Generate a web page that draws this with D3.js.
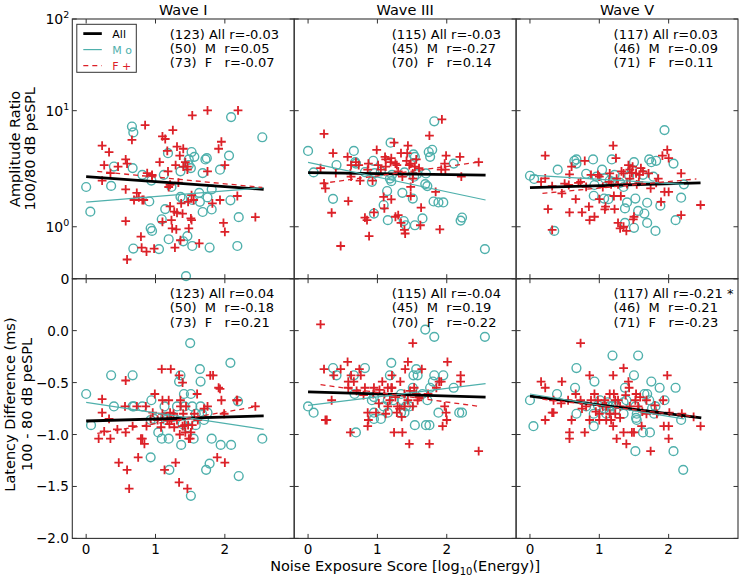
<!DOCTYPE html>
<html>
<head>
<meta charset="utf-8">
<script src="https://cdn.jsdelivr.net/npm/d3@7/dist/d3.min.js"></script>
<style>
body { margin: 0; background: #fff; }
text { font-family: "DejaVu Sans", sans-serif; }
</style>
</head>
<body>
<svg id="chart" width="740" height="575"></svg>
<script>
// ---- data: [noise exposure, value] ----
const waves = ["Wave I", "Wave III", "Wave V"]

// amplitude ratio, males (circles)
const ampM_I = [[0.00,2.2],[0.06,1.35],[0.36,2.25],[0.40,3.3],[0.66,7.3],[0.68,6.5],[0.67,3.2],[0.68,0.58],[0.81,2.8],[0.91,1.65],[0.93,0.97],[0.95,0.92],[0.94,2.5],[1.05,0.57],[1.09,1.16],[1.12,2.8],[1.14,1.42],[1.18,4.3],[1.19,0.76],[1.23,2.2],[1.36,1.81],[1.36,3.0],[1.40,0.72],[1.46,0.82],[1.44,0.05],[1.48,3.4],[1.52,4.4],[1.53,0.63],[1.56,4.0],[1.63,1.96],[1.64,1.64],[1.68,2.9],[1.68,1.34],[1.72,3.8],[1.74,3.9],[1.75,1.79],[1.78,0.60],[1.81,2.1],[1.81,1.41],[1.93,3.1],[2.06,4.1],[2.08,1.69],[2.09,8.8],[2.18,0.63],[2.20,1.21],[2.54,5.9],[1.48,3.8],[1.53,1.70],[1.51,3.2],[1.39,1.75]]
const ampM_III = [[0.00,4.5],[0.08,2.94],[0.36,1.74],[0.41,3.4],[0.66,4.5],[0.68,3.6],[0.69,3.5],[0.82,2.96],[0.92,2.44],[0.94,3.7],[0.95,1.30],[1.05,3.0],[1.09,1.54],[1.14,2.03],[1.15,1.14],[1.19,5.3],[1.20,2.47],[1.21,2.8],[1.36,1.96],[1.38,1.12],[1.41,1.03],[1.39,2.94],[1.51,1.75],[1.52,4.2],[1.54,4.0],[1.54,1.03],[1.57,2.84],[1.65,1.18],[1.69,2.33],[1.70,2.88],[1.72,2.24],[1.74,4.4],[1.76,4.0],[1.79,4.6],[1.82,8.1],[1.81,1.65],[1.88,1.62],[1.95,1.62],[2.10,3.5],[2.20,1.13],[2.22,1.20],[2.55,0.57],[1.53,2.70],[1.18,2.6],[0.96,2.9]]
const ampM_V = [[0.00,2.75],[0.06,2.58],[0.35,0.92],[0.40,3.1],[0.64,3.7],[0.67,3.8],[0.81,2.86],[0.91,3.8],[0.92,1.85],[0.93,2.29],[1.04,3.1],[1.08,2.61],[1.13,1.73],[1.18,3.8],[1.20,2.44],[1.22,2.8],[1.30,2.39],[1.37,1.44],[1.37,1.08],[1.40,1.62],[1.43,2.75],[1.50,3.6],[1.52,1.75],[1.50,0.98],[1.56,1.37],[1.63,2.8],[1.65,1.30],[1.69,1.61],[1.69,1.08],[1.72,3.8],[1.75,3.6],[1.78,2.70],[1.82,3.7],[1.81,0.92],[1.88,1.52],[1.94,6.8],[2.07,3.5],[2.10,1.14],[2.18,1.78],[2.22,2.32],[1.07,1.75],[1.47,3.1],[0.67,3.5],[1.15,2.5],[0.96,2.7],[1.35,2.2]]

// amplitude ratio, females (crosses)
const ampF_I = [[0.23,5.0],[0.26,3.4],[0.33,4.4],[0.23,2.5],[0.35,2.9],[0.46,3.3],[0.57,3.8],[0.59,3.5],[0.57,2.1],[0.57,1.12],[0.59,0.37],[0.66,5.6],[0.85,7.5],[0.73,1.96],[0.76,1.79],[0.81,1.70],[0.83,1.70],[0.79,0.81],[0.80,0.60],[0.87,0.52],[0.95,2.8],[0.98,0.58],[1.06,3.6],[1.10,6.0],[1.14,5.7],[1.17,4.5],[1.18,3.0],[1.19,2.2],[1.21,2.3],[1.23,1.14],[1.24,0.97],[1.25,6.8],[1.27,1.35],[1.28,0.60],[1.31,4.9],[1.33,2.4],[1.35,4.1],[1.36,0.74],[1.37,1.59],[1.39,1.30],[1.40,4.7],[1.40,3.3],[1.43,3.6],[1.46,3.1],[1.47,1.64],[1.48,0.97],[1.51,1.18],[1.52,1.14],[1.53,9.1],[1.52,1.87],[1.63,0.68],[1.75,10.1],[1.82,1.59],[1.91,4.7],[1.93,1.70],[1.95,5.4],[1.98,1.08],[2.00,0.90],[2.00,3.4],[2.18,1.84],[2.19,10.1],[2.44,1.21],[1.30,0.95],[1.31,1.32],[1.29,3.4],[1.46,3.3],[0.69,1.70],[0.88,2.9],[1.21,1.50],[1.55,1.70],[1.75,3.0],[1.10,1.10],[0.95,2.75]]
const ampF_III = [[0.18,3.2],[0.23,6.3],[0.23,2.36],[0.25,2.14],[0.34,1.32],[0.36,4.3],[0.47,0.63],[0.57,4.0],[0.58,1.66],[0.61,2.88],[0.62,3.4],[0.73,3.4],[0.75,2.5],[0.82,1.20],[0.85,1.14],[0.87,3.5],[0.88,0.82],[0.95,1.33],[0.99,4.6],[1.01,3.4],[1.09,1.81],[1.11,4.0],[1.12,3.3],[1.10,1.44],[1.19,3.6],[1.20,1.72],[1.24,5.3],[1.26,3.5],[1.28,3.4],[1.26,1.22],[1.30,1.26],[1.34,4.3],[1.34,1.08],[1.36,2.70],[1.39,0.94],[1.40,0.87],[1.44,5.0],[1.43,4.3],[1.46,3.4],[1.48,3.5],[1.48,2.21],[1.51,2.88],[1.54,3.3],[1.56,3.8],[1.48,1.84],[1.63,1.46],[1.62,1.03],[1.75,6.1],[1.84,2.0],[1.90,0.95],[1.93,8.4],[1.97,3.5],[1.99,4.1],[1.98,3.1],[2.19,4.0],[2.21,2.7],[2.46,3.6],[0.69,3.6],[0.62,2.7],[1.05,3.1],[1.92,3.1],[1.12,3.8],[1.51,2.6],[1.20,3.9],[0.86,3.1],[0.40,2.9],[1.60,3.2],[1.30,3.0],[1.42,3.7],[0.93,2.5]]
const ampF_V = [[0.16,2.44],[0.22,4.1],[0.22,2.61],[0.26,1.42],[0.32,2.24],[0.32,0.94],[0.46,1.94],[0.56,2.29],[0.57,2.83],[0.57,1.33],[0.60,3.3],[0.66,1.73],[0.73,2.44],[0.75,1.33],[0.79,3.7],[0.85,1.49],[0.86,1.14],[0.93,1.22],[0.98,2.8],[1.00,1.73],[1.08,1.41],[1.09,1.49],[1.15,2.88],[1.17,2.32],[1.20,5.0],[1.21,1.84],[1.22,1.42],[1.24,3.9],[1.27,2.32],[1.27,1.08],[1.30,0.97],[1.31,1.84],[1.32,3.0],[1.35,1.00],[1.39,0.92],[1.40,2.33],[1.42,3.4],[1.44,3.1],[1.47,2.92],[1.48,3.3],[1.50,1.22],[1.49,1.16],[1.53,2.88],[1.58,2.8],[1.54,2.32],[1.60,3.2],[1.63,3.0],[1.74,2.14],[1.82,2.39],[1.89,1.64],[1.91,4.1],[1.94,2.0],[1.98,4.6],[2.00,3.9],[2.00,2.0],[2.18,2.88],[2.18,1.26],[2.46,1.54],[1.00,2.7],[0.88,2.8],[0.70,2.39],[1.35,2.88],[1.44,2.6],[1.71,2.88],[1.14,2.44],[0.81,2.21],[1.57,2.44],[1.05,2.2],[0.50,2.35],[1.25,2.6],[1.85,2.6]]

// latency difference (ms), males
const latM_I = [[0.00,-0.61],[0.07,-0.91],[0.36,-0.43],[0.40,-0.73],[0.67,-0.43],[0.67,-0.73],[0.69,-0.73],[0.81,-0.73],[0.93,-1.22],[0.94,-0.67],[0.93,-0.86],[1.04,-0.98],[1.09,-1.04],[1.13,-0.73],[1.14,-0.83],[1.15,-0.86],[1.20,-1.34],[1.34,-0.49],[1.36,-0.43],[1.37,-1.10],[1.41,-0.61],[1.42,-0.73],[1.50,-0.12],[1.51,-0.61],[1.51,-1.59],[1.53,-0.73],[1.55,-1.04],[1.58,-0.91],[1.64,-0.37],[1.65,-0.49],[1.67,-0.80],[1.70,-0.86],[1.73,-1.34],[1.75,-0.79],[1.78,-1.28],[1.81,-1.04],[1.94,-1.10],[2.08,-0.31],[2.09,-1.10],[2.19,-0.68],[2.20,-1.40],[2.54,-1.04],[1.19,-1.04],[1.39,-0.90],[1.46,-0.93],[1.31,-0.73],[1.26,-0.83],[1.65,-0.73],[1.58,-0.80],[0.98,-0.85]]
const latM_III = [[0.00,-0.73],[0.08,-0.79],[0.36,-0.36],[0.41,-0.43],[0.66,-0.43],[0.67,-0.61],[0.69,-0.98],[0.82,-0.36],[0.92,-0.67],[0.95,-0.79],[0.95,-0.85],[1.05,-0.85],[1.09,-0.73],[1.15,-0.79],[1.18,-0.43],[1.20,-0.31],[1.23,-0.67],[1.36,-0.67],[1.39,-0.79],[1.41,-0.73],[1.51,-0.55],[1.52,-0.43],[1.54,-0.91],[1.56,-0.37],[1.58,-0.43],[1.65,-0.61],[1.69,0.01],[1.72,-0.67],[1.70,-0.91],[1.75,-0.91],[1.76,-0.55],[1.80,-0.49],[1.82,-0.06],[1.82,-0.43],[1.88,-0.79],[1.95,-0.43],[2.10,-0.55],[2.18,-0.79],[2.22,-0.79],[2.55,-0.06],[1.34,-0.79],[1.15,-0.67],[1.46,-0.73],[0.95,-0.64],[1.34,-0.61]]
const latM_V = [[0.00,-0.67],[0.05,-0.92],[0.39,-0.61],[0.67,-0.36],[0.65,-0.55],[0.67,-0.80],[0.92,-0.92],[0.93,-0.49],[0.92,-0.80],[0.98,-0.72],[1.07,-0.75],[1.10,-0.80],[1.14,-0.73],[1.18,-0.73],[1.19,-0.24],[1.35,-0.80],[1.37,-0.55],[1.39,-0.67],[1.50,-0.43],[1.52,-1.16],[1.52,-0.73],[1.54,-0.86],[1.56,-0.24],[1.63,-0.98],[1.65,-0.61],[1.69,-0.61],[1.72,-0.67],[1.73,-0.98],[1.75,-0.49],[1.79,-0.80],[1.81,-0.73],[1.87,-0.55],[1.94,-0.67],[2.07,-1.16],[2.10,-0.55],[2.18,-0.86],[2.21,-1.34],[1.01,-0.67],[1.20,-0.72],[0.81,-0.73],[1.35,-0.69],[1.54,-0.80],[1.15,-0.77],[1.53,-0.84],[1.76,-0.75],[1.12,-0.69]]

// latency difference (ms), females
const latF_I = [[0.23,-0.66],[0.23,-0.79],[0.18,-1.04],[0.26,-0.97],[0.33,-0.85],[0.35,-1.04],[0.47,-1.27],[0.57,-0.48],[0.56,-0.73],[0.57,-0.98],[0.59,-1.34],[0.62,-1.52],[0.67,-0.92],[0.73,-0.73],[0.75,-1.22],[0.79,-1.04],[0.81,-1.04],[0.84,-1.09],[0.86,-0.73],[0.87,-0.92],[0.96,-0.79],[0.99,-0.61],[1.09,-0.37],[1.10,-0.67],[1.10,-0.80],[1.13,-1.34],[1.19,-0.67],[1.22,-0.37],[1.21,-0.79],[1.23,-0.86],[1.26,-0.80],[1.29,-1.27],[1.31,-0.86],[1.34,-0.43],[1.34,-1.46],[1.36,-0.67],[1.36,-0.73],[1.39,-0.92],[1.40,-0.80],[1.42,-0.91],[1.43,-0.98],[1.46,-1.52],[1.47,-0.91],[1.48,-1.04],[1.51,-0.98],[1.53,-0.91],[1.60,-0.61],[1.61,-0.86],[1.75,-0.73],[1.79,-0.43],[1.83,-0.43],[1.89,-1.22],[1.91,-0.55],[1.93,-0.56],[1.95,-0.67],[2.00,-1.27],[1.99,-0.80],[2.17,-0.67],[2.18,-0.67],[2.44,-0.73],[1.39,-0.50],[1.17,-0.86],[1.03,-0.86],[1.27,-0.93],[1.08,-0.93],[1.44,-0.73],[0.93,-0.85],[1.56,-0.80],[1.20,-0.90],[1.50,-1.04],[0.45,-0.95],[1.70,-0.75],[1.35,-1.00]]
const latF_III = [[0.18,0.06],[0.23,-0.37],[0.25,-0.86],[0.27,-0.86],[0.34,-0.67],[0.37,-0.43],[0.47,-0.37],[0.57,-0.30],[0.58,-0.55],[0.61,-0.98],[0.62,-0.43],[0.66,-0.49],[0.74,-0.37],[0.76,-0.43],[0.82,-0.55],[0.86,-0.79],[0.87,-0.86],[0.86,-0.92],[0.95,-0.55],[0.98,-0.79],[1.07,-0.49],[1.10,-0.61],[1.15,-0.73],[1.18,-0.67],[1.21,-0.43],[1.21,-0.55],[1.24,-0.98],[1.28,-0.79],[1.29,-0.73],[1.33,-0.49],[1.36,-0.98],[1.39,-0.61],[1.40,-0.37],[1.44,-0.30],[1.44,-0.67],[1.46,-1.09],[1.51,-0.12],[1.53,-0.55],[1.56,-0.61],[1.58,-0.67],[1.64,-0.37],[1.73,-0.61],[1.75,-1.09],[1.85,-0.55],[1.89,-0.49],[1.94,-0.92],[1.97,-0.73],[1.99,-0.79],[2.00,-0.86],[2.01,-0.30],[2.20,-0.43],[2.20,-0.49],[2.46,-1.16],[1.20,-0.55],[1.32,-0.75],[1.39,-0.73],[1.03,-0.57],[0.94,-0.61],[0.58,-0.49],[1.92,-0.49],[1.15,-0.55],[1.51,-0.73],[1.26,-0.64],[1.47,-0.58],[1.02,-0.70],[0.80,-0.62],[1.60,-0.64],[1.35,-0.83],[1.12,-0.80],[0.70,-0.58]]
const latF_V = [[0.16,-0.49],[0.22,-0.55],[0.22,-0.86],[0.32,-0.79],[0.34,-0.79],[0.34,-0.67],[0.46,-0.49],[0.55,-0.67],[0.57,-0.98],[0.57,-1.04],[0.60,-0.86],[0.66,-0.61],[0.73,-0.12],[0.73,-0.67],[0.79,-0.98],[0.81,-0.73],[0.86,-0.43],[0.86,-0.86],[0.93,-0.61],[0.98,-0.67],[1.00,-0.80],[1.00,-0.86],[1.08,-0.67],[1.15,-0.61],[1.17,-0.86],[1.20,-0.43],[1.20,-0.92],[1.21,-0.61],[1.23,-0.80],[1.25,-1.04],[1.30,-0.73],[1.35,-0.36],[1.35,-0.98],[1.39,-1.09],[1.42,-0.49],[1.43,-0.55],[1.47,-0.98],[1.50,-0.98],[1.52,-0.67],[1.53,-0.61],[1.56,-0.73],[1.61,-0.92],[1.68,-0.67],[1.74,-1.16],[1.83,-0.80],[1.92,-0.67],[1.93,-0.92],[1.98,-0.43],[2.00,-0.92],[2.00,-1.04],[2.01,-0.79],[2.19,-0.80],[2.46,-0.92],[2.36,-0.83],[1.23,-0.67],[1.10,-0.73],[1.44,-0.73],[1.59,-0.64],[1.27,-0.67],[1.68,-0.80],[0.88,-0.67],[1.15,-0.80],[1.05,-0.73],[0.45,-0.70],[1.30,-0.84],[0.75,-0.75],[1.62,-0.78],[1.38,-0.62],[0.95,-0.78],[1.80,-0.72],[1.10,-0.86]]

// regression line end points [[x0,y0],[x1,y1]] for All / M / F
const ampFitAll = [[[0,2.70],[2.56,2.10]], [[0,2.93],[2.56,2.79]], [[0,2.17],[2.46,2.39]]]
const ampFitM   = [[[0,1.63],[2.56,2.17]], [[0,3.59],[2.56,1.70]], [[0,2.79],[2.22,2.32]]]
const ampFitF   = [[[0.16,3.0],[2.54,2.18]], [[0.19,2.36],[2.50,3.63]], [[0.18,1.94],[2.40,2.58]]]
const latFitAll = [[[0,-0.87],[2.56,-0.82]], [[0,-0.59],[2.56,-0.64]], [[0,-0.63],[2.47,-0.84]]]
const latFitM   = [[[0,-0.69],[2.56,-0.95]], [[0,-0.72],[2.56,-0.51]], [[0,-0.61],[2.22,-0.85]]]
const latFitF   = [[[0.16,-0.99],[2.47,-0.73]], [[0.18,-0.52],[2.47,-0.73]], [[0.18,-0.66],[2.39,-0.83]]]

// correlation annotations
const ampStats = [
  ["(123) All r=-0.03", "(50)  M  r=0.05", "(73)  F   r=-0.07"],
  ["(115) All r=-0.03", "(45)  M  r=-0.27", "(70)  F   r=0.14"],
  ["(117) All r=0.03", "(46)  M  r=-0.09", "(71)  F   r=0.11"]
]
const latStats = [
  ["(123) All r=0.04", "(50)  M  r=-0.18", "(73)  F   r=0.21"],
  ["(115) All r=-0.04", "(45)  M  r=0.19", "(70)  F   r=-0.22"],
  ["(117) All r=-0.21 *", "(46)  M  r=-0.21", "(71)  F   r=-0.23"]
]

const xTicks = [0, 1, 2]
const ampTicks = [0, 1, 10, 100]
const latTicks = [0.5, 0, -0.5, -1, -1.5, -2]
const latTickLabels = [0, -0.5, -1, -1.5, -2]

// ---- layout ----
const svg = d3.select("#chart")
const marginLeft = 72.3, marginTop = 19, pw = 221.9, ph = 259.7
const teal = "#4fb0ac", red = "#dc2128"

const x = d3.scaleLinear().domain([-0.2, 3.0]).range([0, pw])
// amplitude axis: linear from 0 to 1, log above (the top decade is squeezed in the original)
const ampPiece = d3.scaleLinear().domain([0, 1, 2, 3]).range([ph, ph * 0.8, ph * 0.353, 0])
const yAmp = v => ampPiece(v <= 1 ? v : 1 + Math.log10(v))
const yLat = d3.scaleLinear().domain([-2.0, 0.5]).range([ph, 0])

const rows = [
  { y: yAmp, ticks: ampTicks, M: [ampM_I, ampM_III, ampM_V], F: [ampF_I, ampF_III, ampF_V],
    fitAll: ampFitAll, fitM: ampFitM, fitF: ampFitF, stats: ampStats },
  { y: yLat, ticks: latTicks, M: [latM_I, latM_III, latM_V], F: [latF_I, latF_III, latF_V],
    fitAll: latFitAll, fitM: latFitM, fitF: latFitF, stats: latStats }
]

const tickLen = 4.5
const fmt = d => d3.format(".1f")(d).replace("-", "\u2212")

rows.forEach((row, r) => {
  for (let c = 0; c < 3; c++) {
    const g = svg.append("g")
      .attr("transform", `translate(${marginLeft + c * pw},${marginTop + r * ph})`)
    const y = row.y

    // markers
    g.append("g").selectAll("circle")
      .data(row.M[c]).enter().append("circle")
      .attr("cx", d => x(d[0])).attr("cy", d => y(d[1]))
      .attr("r", 4.4)
      .attr("fill", "none").attr("stroke", teal).attr("stroke-width", 1.4)
    g.append("g").selectAll("path")
      .data(row.F[c]).enter().append("path")
      .attr("transform", d => `translate(${x(d[0])},${y(d[1])})`)
      .attr("d", "M-4.4,0H4.4M0,-4.4V4.4")
      .attr("stroke", red).attr("stroke-width", 1.8)

    // fit lines
    const line = d3.line().x(d => x(d[0])).y(d => y(d[1]))
    g.append("path").attr("d", line(row.fitAll[c]))
      .attr("stroke", "#000").attr("stroke-width", 2.8).attr("fill", "none")
    g.append("path").attr("d", line(row.fitM[c]))
      .attr("stroke", teal).attr("stroke-width", 1.2).attr("fill", "none")
    g.append("path").attr("d", line(row.fitF[c]))
      .attr("stroke", red).attr("stroke-width", 1.3).attr("fill", "none")
      .attr("stroke-dasharray", "5,4")

    // frame + inward ticks on every side
    g.append("rect").attr("width", pw).attr("height", ph)
      .attr("fill", "none").attr("stroke", "#333").attr("stroke-width", 1.1)
    xTicks.forEach(t => {
      g.append("line").attr("x1", x(t)).attr("x2", x(t)).attr("y1", ph).attr("y2", ph - tickLen).attr("stroke", "#333")
      g.append("line").attr("x1", x(t)).attr("x2", x(t)).attr("y1", 0).attr("y2", tickLen).attr("stroke", "#333")
    })
    row.ticks.forEach(t => {
      g.append("line").attr("x1", 0).attr("x2", tickLen).attr("y1", y(t)).attr("y2", y(t)).attr("stroke", "#333")
      g.append("line").attr("x1", pw).attr("x2", pw - tickLen).attr("y1", y(t)).attr("y2", y(t)).attr("stroke", "#333")
    })

    // stats text
    g.append("g").selectAll("text")
      .data(row.stats[c]).enter().append("text")
      .attr("x", 97.5).attr("y", (d, i) => 19.5 + i * 14.3)
      .attr("font-size", 13).attr("fill", "#000")
      .style("white-space", "pre")
      .text(d => d)

    if (r === 0) {
      g.append("text").attr("x", pw / 2).attr("y", -4)
        .attr("text-anchor", "middle").attr("font-size", 14.5)
        .text(waves[c])
    }
    if (r === 1) {
      g.append("g").selectAll("text")
        .data(xTicks).enter().append("text")
        .attr("x", d => x(d)).attr("y", ph + 15.5)
        .attr("text-anchor", "middle").attr("font-size", 13.5)
        .text(d => d)
    }
    if (c === 0 && r === 0) {
      ampTicks.forEach(t => {
        const tx = g.append("text").attr("x", -3).attr("y", y(t) + 5)
          .attr("text-anchor", "end").attr("font-size", 14)
        if (t === 0) { tx.text("0") }
        else {
          tx.append("tspan").text("10")
          tx.append("tspan").attr("font-size", 9.5).attr("dy", -6).text(Math.round(Math.log10(t)))
        }
      })
      // legend
      const lg = g.append("g").attr("transform", "translate(4.5,5.3)")
      lg.append("rect").attr("width", 59.5).attr("height", 48)
        .attr("fill", "#fff").attr("stroke", "#333").attr("stroke-width", 1)
      const items = [["All", "#000", 2.8, null], ["M o", teal, 1.2, null], ["F +", red, 1.3, "5,4"]]
      items.forEach((it, i) => {
        const yy = 9.3 + i * 16
        lg.append("line").attr("x1", 6.5).attr("x2", 25).attr("y1", yy).attr("y2", yy)
          .attr("stroke", it[1]).attr("stroke-width", it[2]).attr("stroke-dasharray", it[3])
        lg.append("text").attr("x", 35.5).attr("y", yy + 4).attr("font-size", 11)
          .attr("fill", it[1]).text(it[0])
      })
    }
    if (c === 0 && r === 1) {
      g.append("g").selectAll("text")
        .data(latTickLabels).enter().append("text")
        .attr("x", -3.5).attr("y", d => y(d) + 5)
        .attr("text-anchor", "end").attr("font-size", 13.5)
        .text(fmt)
    }
  }
})

// axis labels
const yLabels = [
  { lines: ["Amplitude Ratio", "100/80 dB peSPL"], cy: marginTop + ph / 2, bx: [19.5, 35] },
  { lines: ["Latency Difference (ms)", "100 - 80 dB peSPL"], cy: marginTop + ph * 1.5 - 4, bx: [14.5, 31.5] }
]
yLabels.forEach(l => {
  l.lines.forEach((s, i) => {
    svg.append("text")
      .attr("transform", `translate(${l.bx[i]},${l.cy}) rotate(-90)`)
      .attr("text-anchor", "middle").attr("font-size", 14.5)
      .text(s)
  })
})

const xl = svg.append("text")
  .attr("x", marginLeft + 1.5 * pw).attr("y", 571)
  .attr("text-anchor", "middle").attr("font-size", 14.5)
xl.append("tspan").text("Noise Exposure Score [log")
xl.append("tspan").attr("font-size", 10).attr("dy", 3.5).text("10")
xl.append("tspan").attr("dy", -3.5).text("(Energy)]")
</script>
</body>
</html>
